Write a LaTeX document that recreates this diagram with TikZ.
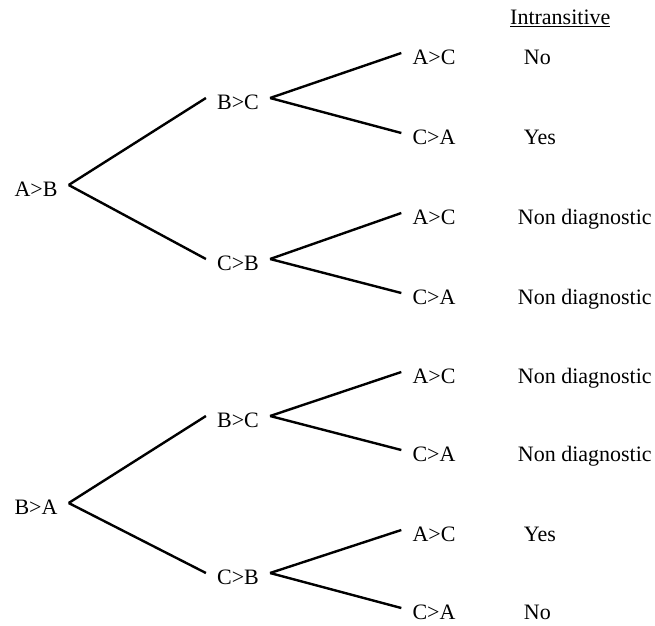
\documentclass[tikz,border=0pt]{standalone}
\usepackage{fontspec}
\setmainfont{Liberation Serif}
\usetikzlibrary{positioning}

\tikzset{
    choice/.style={font=\fontsize{22}{26}\selectfont, inner xsep=11pt, inner ysep=0pt, text height=22.6pt, text depth=0pt},
    verdict/.style={choice, inner xsep=0pt},
    branch/.style={line width=2.4pt}
}

\begin{document}
\begin{tikzpicture}[x=1pt, y=-1pt]
    \useasboundingbox (0,0) rectangle (655,625);

    % upper tree
    \node[choice] (ab) at (36,185) {A>B};
    \node[choice] (bc1) at (238,98) {B>C};
    \node[choice] (cb1) at (238,259) {C>B};
    \node[choice] (l1) at (434,53) {A>C};
    \node[choice] (l2) at (434,133) {C>A};
    \node[choice] (l3) at (434,213) {A>C};
    \node[choice] (l4) at (434,293) {C>A};

    % lower tree
    \node[choice] (ba) at (36,503) {B>A};
    \node[choice] (bc2) at (238,416) {B>C};
    \node[choice] (cb2) at (238,573) {C>B};
    \node[choice] (l5) at (434,372) {A>C};
    \node[choice] (l6) at (434,450) {C>A};
    \node[choice] (l7) at (434,530) {A>C};
    \node[choice] (l8) at (434,608) {C>A};

    \foreach \a/\b in {ab/bc1, ab/cb1, bc1/l1, bc1/l2, cb1/l3, cb1/l4,
                       ba/bc2, ba/cb2, bc2/l5, bc2/l6, cb2/l7, cb2/l8}
        \draw[branch] (\a.east) -- (\b.west);

    % intransitive column
    \node[verdict, anchor=west] (head) at (510,13) {\underline{Intransitive}};
    \node[verdict, right=57pt of l1] (v1) {No};
    \node[verdict, right=57pt of l2] (v2) {Yes};
    \node[verdict, right=51pt of l3] (v3) {Non diagnostic};
    \node[verdict, right=51pt of l4] (v4) {Non diagnostic};
    \node[verdict, right=51pt of l5] (v5) {Non diagnostic};
    \node[verdict, right=51pt of l6] (v6) {Non diagnostic};
    \node[verdict, right=57pt of l7] (v7) {Yes};
    \node[verdict, right=57pt of l8] (v8) {No};
\end{tikzpicture}
\end{document}
